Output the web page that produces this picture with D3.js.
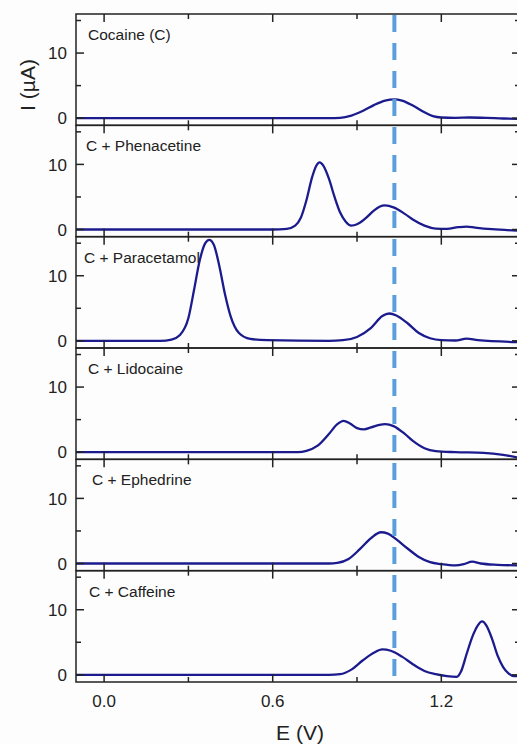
<!DOCTYPE html>
<html>
<head>
<meta charset="utf-8">
<style>
body { margin: 0; background: #fdfdfd; }
svg { display: block; font-family: "Liberation Sans", Arial, sans-serif; }
.tick-label { font-size: 17px; fill: #222; }
.panel-label { font-size: 15.5px; fill: #222; }
.axis-title { font-size: 21px; fill: #222; }
</style>
</head>
<body>
<div id="chart"></div>
<script src="https://d3js.org/d3.v7.min.js"></script>
<script>
// values: [E (V), I (uA)]
var cocaine = [[-0.1,0],[0.8,0],[0.84,0.05],[0.88,0.4],[0.92,1.1],[0.96,2.0],[1.0,2.7],[1.033,2.9],[1.06,2.7],[1.1,1.9],[1.14,0.9],[1.17,0.3],[1.2,0.1],[1.25,0.05],[1.3,0.1],[1.36,0.05],[1.42,-0.05],[1.48,-0.1]];
var phenacetine = [[-0.1,0],[0.6,0],[0.65,0.1],[0.68,0.6],[0.7,1.8],[0.72,4.5],[0.74,8.0],[0.755,9.8],[0.767,10.3],[0.78,9.8],[0.8,7.8],[0.82,5.0],[0.84,2.6],[0.86,1.2],[0.88,0.6],[0.9,0.8],[0.93,1.7],[0.96,2.9],[0.98,3.5],[1.0,3.7],[1.03,3.4],[1.07,2.4],[1.1,1.5],[1.14,0.6],[1.18,0.15],[1.22,0.1],[1.26,0.35],[1.29,0.45],[1.32,0.3],[1.38,0.05],[1.48,-0.2]];
var paracetamol = [[-0.1,0],[0.2,0],[0.24,0.2],[0.27,0.9],[0.3,3.5],[0.32,7.8],[0.34,12.3],[0.36,15.0],[0.374,15.5],[0.39,14.8],[0.41,11.5],[0.43,7.2],[0.45,3.8],[0.48,1.2],[0.52,0.3],[0.58,0.1],[0.8,0],[0.85,0.1],[0.9,0.6],[0.95,2.0],[0.99,3.8],[1.015,4.2],[1.04,3.9],[1.08,2.7],[1.12,1.2],[1.16,0.4],[1.2,0.1],[1.25,0.05],[1.29,0.35],[1.33,0.1],[1.48,-0.2]];
var lidocaine = [[-0.1,0],[0.69,0],[0.72,0.2],[0.76,1.0],[0.8,2.8],[0.83,4.3],[0.852,4.8],[0.875,4.4],[0.9,3.7],[0.925,3.5],[0.95,3.8],[0.98,4.2],[1.0,4.3],[1.03,4.0],[1.07,2.8],[1.1,1.7],[1.14,0.6],[1.18,0.15],[1.25,0.0],[1.35,-0.1],[1.42,-0.4],[1.48,-0.9]];
var ephedrine = [[-0.1,0],[0.8,0],[0.83,0.1],[0.87,0.7],[0.91,2.2],[0.95,3.9],[0.985,4.8],[1.01,4.6],[1.04,3.7],[1.08,2.3],[1.12,1.0],[1.16,0.2],[1.2,-0.1],[1.25,-0.3],[1.28,-0.1],[1.31,0.3],[1.34,0.0],[1.4,-0.2],[1.48,-0.3]];
var caffeine = [[-0.1,0],[0.8,0],[0.84,0.1],[0.88,0.8],[0.92,2.2],[0.96,3.4],[0.99,3.9],[1.02,3.7],[1.06,2.8],[1.1,1.6],[1.14,0.6],[1.18,0.1],[1.22,-0.2],[1.255,-0.3],[1.27,0.5],[1.29,3.2],[1.31,5.8],[1.33,7.6],[1.345,8.2],[1.36,7.6],[1.38,5.6],[1.4,3.0],[1.42,1.2],[1.44,0.2],[1.46,-0.2],[1.48,-0.2]];

var panelNames = ["Cocaine (C)", "C + Phenacetine", "C + Paracetamol", "C + Lidocaine", "C + Ephedrine", "C + Caffeine"];
var panelSeries = [cocaine, phenacetine, paracetamol, lidocaine, ephedrine, caffeine];
var xMajor = [0.0, 0.6, 1.2];
var xMinor = [0.3, 0.9];
var yMajor = [0, 10];
var yMinor = [5, 15];
var cocainePeak = 1.033;

var W = 517, H = 744;
var top0 = 14, bottom0 = 682, left = 76, right = 520;
var panelH = (bottom0 - top0) / panelNames.length;
// small per-panel nudges of the label, as in the original figure
var labelDx = [12, 10, 8, 12, 16, 13];

var svg = d3.select("#chart").append("svg")
  .attr("width", W).attr("height", H);

var x = d3.scaleLinear().domain([-0.1, 1.48]).range([left, right]);

var line = d3.line().curve(d3.curveMonotoneX);

panelSeries.forEach(function(series, i) {
  var py0 = top0 + i * panelH;
  var y = d3.scaleLinear().domain([-1.1, 16]).range([py0 + panelH, py0]);
  var g = svg.append("g");

  // curve
  g.append("path")
    .attr("d", line.x(function(d) { return x(d[0]); }).y(function(d) { return y(d[1]); })(series))
    .attr("fill", "none")
    .attr("stroke", "#1b1b8e")
    .attr("stroke-width", 2.3)
    .attr("stroke-linejoin", "round");

  // frame
  g.append("rect")
    .attr("x", left).attr("y", py0)
    .attr("width", right - left).attr("height", panelH)
    .attr("fill", "none").attr("stroke", "#222").attr("stroke-width", 1.5);

  // x ticks, inward from bottom and top
  xMajor.concat(xMinor).forEach(function(v) {
    var len = xMajor.indexOf(v) >= 0 ? 8 : 5;
    g.append("line").attr("x1", x(v)).attr("x2", x(v))
      .attr("y1", py0 + panelH).attr("y2", py0 + panelH - len)
      .attr("stroke", "#222").attr("stroke-width", 1.5);
    g.append("line").attr("x1", x(v)).attr("x2", x(v))
      .attr("y1", py0).attr("y2", py0 + len)
      .attr("stroke", "#222").attr("stroke-width", 1.5);
  });

  // y ticks, inward from left and right
  yMajor.concat(yMinor).forEach(function(v) {
    var len = yMajor.indexOf(v) >= 0 ? 8 : 5;
    g.append("line").attr("x1", left).attr("x2", left + len)
      .attr("y1", y(v)).attr("y2", y(v))
      .attr("stroke", "#222").attr("stroke-width", 1.5);
    g.append("line").attr("x1", right).attr("x2", right - len)
      .attr("y1", y(v)).attr("y2", y(v))
      .attr("stroke", "#222").attr("stroke-width", 1.5);
  });

  yMajor.forEach(function(v) {
    g.append("text").attr("class", "tick-label")
      .attr("x", left - 9).attr("y", y(v)).attr("dy", "0.36em")
      .attr("text-anchor", "end").text(v);
  });

  g.append("text").attr("class", "panel-label")
    .attr("x", left + labelDx[i]).attr("y", py0 + 26)
    .text(panelNames[i]);
});

// dashed line at the cocaine peak
svg.append("line")
  .attr("x1", x(cocainePeak)).attr("x2", x(cocainePeak))
  .attr("y1", top0 + 1).attr("y2", bottom0)
  .attr("stroke", "#5a9fdb").attr("stroke-width", 4)
  .attr("stroke-dasharray", "17,11");

// x tick labels
xMajor.forEach(function(v) {
  svg.append("text").attr("class", "tick-label")
    .attr("x", x(v)).attr("y", bottom0 + 25)
    .attr("text-anchor", "middle").text(d3.format(".1f")(v));
});

svg.append("text").attr("class", "axis-title")
  .attr("x", 300).attr("y", 740).attr("text-anchor", "middle").text("E (V)");

svg.append("text").attr("class", "axis-title")
  .attr("transform", "translate(35,85) rotate(-90)")
  .attr("text-anchor", "middle").text("I (µA)");
</script>
</body>
</html>
